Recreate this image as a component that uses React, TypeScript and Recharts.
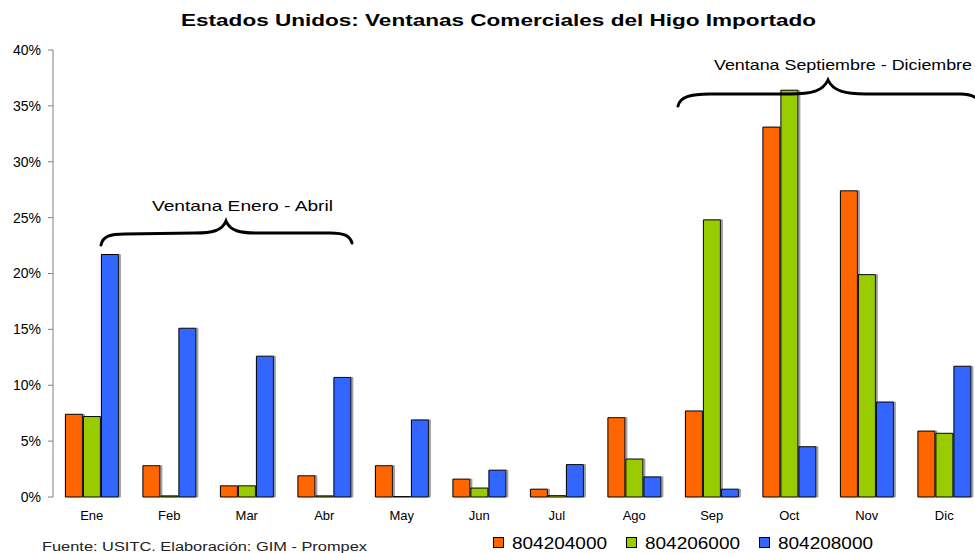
import { BarChart, Bar, XAxis, YAxis } from 'recharts';

const months = ['Ene', 'Feb', 'Mar', 'Abr', 'May', 'Jun', 'Jul', 'Ago', 'Sep', 'Oct', 'Nov', 'Dic'];
const s804204000 = [7.4, 2.8, 1.0, 1.9, 2.8, 1.6, 0.7, 7.1, 7.7, 33.1, 27.4, 5.9];
const s804206000 = [7.2, 0.1, 1.0, 0.1, 0.05, 0.8, 0.15, 3.4, 24.8, 36.4, 19.9, 5.7];
const s804208000 = [21.7, 15.1, 12.6, 10.7, 6.9, 2.4, 2.9, 1.8, 0.7, 4.5, 8.5, 11.7];
const yTicks = [0, 5, 10, 15, 20, 25, 30, 35, 40];
const edgeTicks = [0, 1, 2, 3, 4, 5, 6, 7, 8, 9, 10, 11, 12];

const series = [
    { key: '804204000', values: s804204000, color: '#FF6600' },
    { key: '804206000', values: s804206000, color: '#99CC00' },
    { key: '804208000', values: s804208000, color: '#3366FF' },
];

const data = months.map((m, i) => ({
    month: m,
    idx: i + 0.5,
    '804204000': s804204000[i],
    '804206000': s804206000[i],
    '804208000': s804208000[i],
}));

const font = 'Arial, "Liberation Sans", sans-serif';

export default function App() {
    return (
        <div style={{ position: 'absolute', left: 0, top: 0, width: 975, height: 553, overflow: 'hidden', background: '#fff', fontFamily: font }}>
            <BarChart
                width={990}
                height={553}
                data={data}
                margin={{ top: 50, right: 7, bottom: 0, left: 1 }}
                barCategoryGap="16%"
                barGap={1}
                style={{ position: 'absolute', left: 0, top: 0 }}
            >
                <defs>
                    <filter id="shadow" x="-20%" y="-5%" width="140%" height="110%">
                        <feDropShadow dx="2" dy="0" stdDeviation="0.6" floodColor="#888" floodOpacity="0.8" />
                    </filter>
                </defs>
                <XAxis
                    xAxisId="edge"
                    dataKey="idx"
                    type="number"
                    domain={[0, 12]}
                    ticks={edgeTicks}
                    tick={false}
                    tickSize={5}
                    height={0}
                    stroke="#808080"
                    allowDataOverflow
                />
                <XAxis
                    dataKey="month"
                    axisLine={false}
                    tickLine={false}
                    tickSize={0}
                    tickMargin={14}
                    height={56}
                    interval={0}
                    tick={{ fill: '#000', fontSize: 13, fontFamily: '"Liberation Sans Narrow", "Arial Narrow", Arial, sans-serif' }}
                />
                <YAxis
                    width={52}
                    domain={[0, 40]}
                    ticks={yTicks}
                    tickFormatter={(v) => `${v}%`}
                    stroke="#808080"
                    tickSize={5}
                    tickMargin={7}
                    tick={{ fill: '#000', fontSize: 14, fontFamily: font }}
                />
                {series.map((s) => (
                    <Bar
                        key={s.key}
                        dataKey={s.key}
                        fill={s.color}
                        stroke="#000"
                        strokeWidth={1}
                        filter="url(#shadow)"
                        isAnimationActive={false}
                    />
                ))}
            </BarChart>
            <svg width={975} height={553} style={{ position: 'absolute', left: 0, top: 0, pointerEvents: 'none' }}>
                <text x={181} y={26} fontSize={17} fontWeight="bold" fontFamily={font} fill="#000" textLength={635} lengthAdjust="spacingAndGlyphs">
                    Estados Unidos: Ventanas Comerciales del Higo Importado
                </text>
                <g fill="none" stroke="#000" strokeWidth={3} strokeLinecap="round">
                    <path d="M101,245 C103,236 110,234 125,234 L195,233 C212,233 222,231 226,221 C230,231 240,233 257,233 L330,233 C345,233 350,236 352,243" />
                    <path d="M678,106 C680,97 690,94 710,94 L790,94 C812,94 823,91 828,80 C833,91 845,94 866,94 L960,94 C970,94 975,96 978,100" />
                </g>
                <text x={152} y={211} fontSize={15} fontFamily={font} fill="#000" textLength={181} lengthAdjust="spacingAndGlyphs">Ventana Enero - Abril</text>
                <text x={714} y={70} fontSize={15} fontFamily={font} fill="#000" textLength={258} lengthAdjust="spacingAndGlyphs">Ventana Septiembre - Diciembre</text>
                <text x={42} y={551} fontSize={12} fontFamily={font} fill="#222" textLength={325} lengthAdjust="spacingAndGlyphs">Fuente: USITC. Elaboración: GIM - Prompex</text>
                {series.map((s, i) => (
                    <g key={s.key} transform={`translate(${493 + i * 133}, 0)`}>
                        <rect x={0.5} y={537.5} width={10} height={10} fill={s.color} stroke="#000" strokeWidth={1} />
                        <text x={19} y={549} fontSize={17} fontFamily={font} fill="#000" textLength={95} lengthAdjust="spacingAndGlyphs">{s.key}</text>
                    </g>
                ))}
            </svg>
        </div>
    );
}
